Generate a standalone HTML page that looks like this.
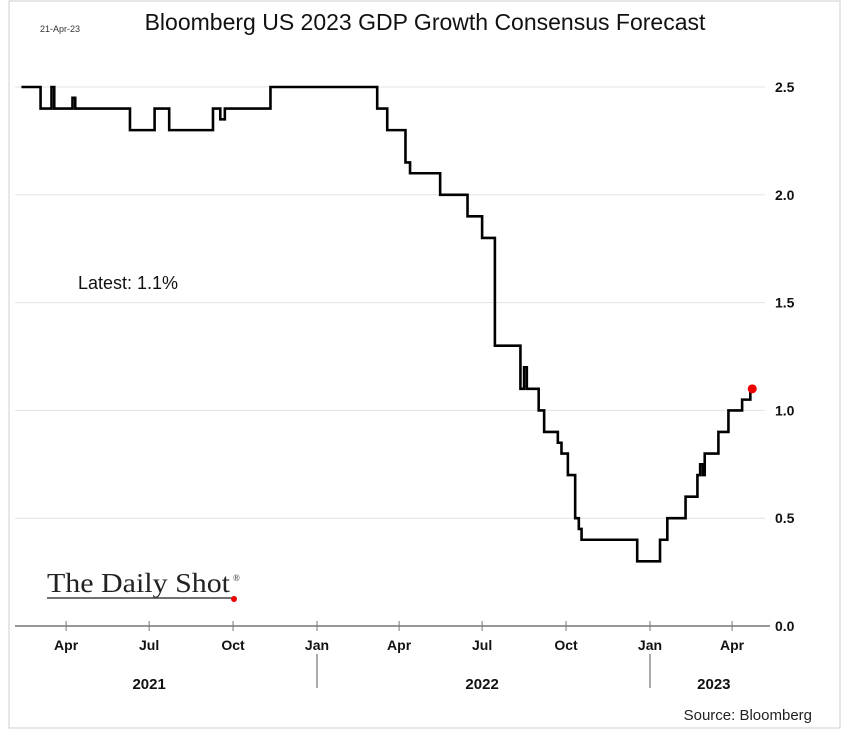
<!DOCTYPE html>
<html><head><meta charset="utf-8"><style>
body{margin:0;background:#fff;}
svg{display:block;font-family:"Liberation Sans",sans-serif;}
</style></head><body>
<svg id="chart" width="844" height="735" viewBox="0 0 844 735">
<rect x="9" y="1" width="831" height="727" fill="#fff" stroke="#cfcfcf"/>
<text x="40" y="32" font-size="9" fill="#333">21-Apr-23</text>
<text x="425" y="30" font-size="23" text-anchor="middle" fill="#111">Bloomberg US 2023 GDP Growth Consensus Forecast</text>
<g id="grid"></g>
<g id="yticks"></g>
<g id="xaxis"></g>
<path id="line" fill="none" stroke="#000" stroke-width="2.6" stroke-linejoin="miter"/>
<circle id="dot" r="4.5" fill="#e00"/>
<text x="78" y="289" font-size="18" fill="#111">Latest:  1.1%</text>
<g>
<text x="47" y="592" font-family="'Liberation Serif',serif" font-size="27" fill="#222" textLength="183" lengthAdjust="spacingAndGlyphs">The Daily Shot</text>
<text x="233" y="581" font-family="'Liberation Serif',serif" font-size="9" fill="#222">®</text>
<line x1="47" y1="598" x2="233" y2="598" stroke="#444" stroke-width="1.5"/>
<circle cx="234" cy="599" r="3" fill="#e00"/>
</g>
<text x="812" y="720" font-size="15" text-anchor="end" fill="#222">Source: Bloomberg</text>
</svg>
<script>
// days since 2021-01-01 at which the value changes
const stepDays = [41,62,74,77,97,100,160,187,203,251,259,264,314,431,442,462,467,500,530,546,560,588,592,595,608,614,629,633,640,648,652,655,716,741,749,769,782,785,788,790,805,816,831,840];
const stepValues = [2.5,2.4,2.5,2.4,2.45,2.4,2.3,2.4,2.3,2.4,2.35,2.4,2.5,2.4,2.3,2.15,2.1,2.0,1.9,1.8,1.3,1.1,1.2,1.1,1.0,0.9,0.85,0.8,0.7,0.5,0.45,0.4,0.3,0.4,0.5,0.6,0.7,0.75,0.7,0.8,0.9,1.0,1.05,1.1];
const endDay = 841;
const yTicks = [0,0.5,1.0,1.5,2.0,2.5];
const yTickLabels = ["0.0","0.5","1.0","1.5","2.0","2.5"];
const monthDays = [90,181,273,365,455,546,638,730,820];
const monthLabels = ["Apr","Jul","Oct","Jan","Apr","Jul","Oct","Jan","Apr"];
const yearLabels = ["2021","2022","2023"];
const yearCenters = [181,546,800];
const yearDividers = [365,730];

const NS="http://www.w3.org/2000/svg";
const X=d=>-16+d*0.9123;
const Y=v=>626-v*215.6;
function mk(tag,attrs,parent,txt){const e=document.createElementNS(NS,tag);for(const k in attrs)e.setAttribute(k,attrs[k]);if(txt!=null)e.textContent=txt;parent.appendChild(e);return e;}
const grid=document.getElementById('grid'),yt=document.getElementById('yticks'),xa=document.getElementById('xaxis');
yTicks.forEach((v,i)=>{
  if(v>0){const g=mk('line',{x1:15,x2:765,y1:Y(v),y2:Y(v),stroke:'#e3e3e3','stroke-width':1},grid);
  
  }
  const t=mk('text',{x:775,y:Y(v)+5,'font-size':14,'font-weight':'bold',fill:'#111'},yt,yTickLabels[i]);
  
  
});
const ax=mk('line',{x1:15,x2:770,y1:626,y2:626,stroke:'#777','stroke-width':1.5},xa);


monthDays.forEach((d,i)=>{
  mk('line',{x1:X(d),x2:X(d),y1:621,y2:631,stroke:'#777','stroke-width':1},xa);
  const t=mk('text',{x:X(d),y:650,'font-size':14,'font-weight':'bold','text-anchor':'middle',fill:'#111'},xa,monthLabels[i]);
  
  
});
yearDividers.forEach(d=>{
  const l=mk('line',{x1:X(d),x2:X(d),y1:654,y2:688,stroke:'#555','stroke-width':1},xa);
  
  
});
yearLabels.forEach((y,i)=>{
  const t=mk('text',{x:X(yearCenters[i]),y:689,'font-size':15,'font-weight':'bold','text-anchor':'middle',fill:'#111'},xa,y);
  
  
});
let d='M'+X(stepDays[0])+','+Y(stepValues[0]);
for(let i=1;i<stepDays.length;i++){d+=' H'+X(stepDays[i])+' V'+Y(stepValues[i]);}
d+=' H'+X(endDay);
document.getElementById('line').setAttribute('d',d);
const dot=document.getElementById('dot');
dot.setAttribute('cx',X(endDay)+1);
dot.setAttribute('cy',Y(stepValues[stepValues.length-1]));
</script>
</body></html>
